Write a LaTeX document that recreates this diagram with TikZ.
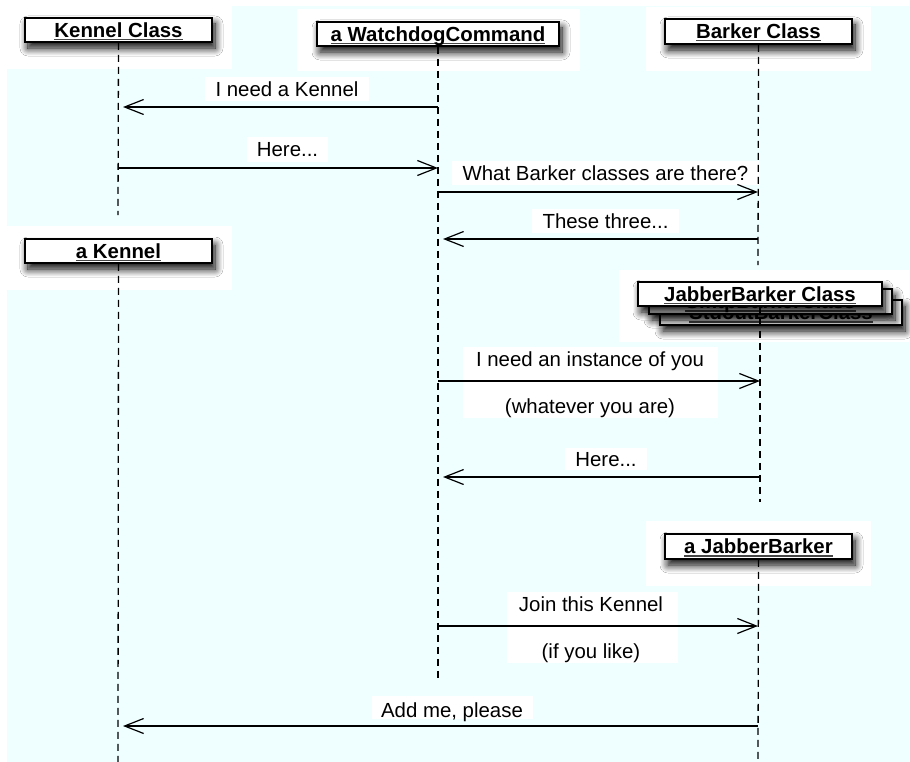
\documentclass[tikz,border=0pt]{standalone}
\usepackage{fontspec}
\setmainfont{Liberation Sans}
\usetikzlibrary{arrows.meta,shadows.blur}
\definecolor{bgcyan}{RGB}{239,255,255}
\definecolor{ulgray}{RGB}{70,70,70}
\newcommand\ultext[1]{\begingroup\setbox0=\hbox{#1}\rlap{\color{ulgray}\rule[-2.6bp]{\wd0}{1.1bp}}\box0\endgroup}
\begin{document}
\begin{tikzpicture}[x=1bp,y=-1bp,
  obj/.style={draw=black, line width=1.6bp, fill=white,
    font=\fontsize{20.4bp}{24bp}\selectfont\bfseries, inner sep=0pt,
    text height=14.8bp, text depth=0pt,
    blur shadow={shadow xshift=3bp, shadow yshift=-6bp, shadow blur radius=8bp, shadow opacity=100, shadow blur steps=10}},
  lbl/.style={font=\fontsize{20.4bp}{24bp}\selectfont, inner sep=0pt, text height=14.6bp, text depth=0pt},
  life/.style={line width=1.3bp, dash pattern=on 7bp off 5bp},
  msg/.style={line width=1.2bp, -{Straight Barb[length=19bp,width=15bp]}},
  patch/.style={fill=white}
]
\useasboundingbox (0,0) rectangle (910,762);
% background
\fill[bgcyan] (7,6) rectangle (910,762);
\fill[patch] (0,0) rectangle (232,69);
\fill[patch] (297,9) rectangle (580,71);
\fill[patch] (646,7) rectangle (871,71);
\fill[patch] (7,226) rectangle (232,290);
\fill[patch] (619,270) rectangle (910,342);
\fill[patch] (646,521) rectangle (871,586);
% label backgrounds
\fill[patch] (205,77) rectangle (369,101);
\fill[patch] (247,137) rectangle (328,162);
\fill[patch] (452,161) rectangle (759,185);
\fill[patch] (532,209) rectangle (679,233);
\fill[patch] (463,347) rectangle (718,418);
\fill[patch] (565,448) rectangle (647,470);
\fill[patch] (507,592) rectangle (678,663);
\fill[patch] (372,696) rectangle (533,719);

% objects
\node[obj, minimum width=187bp, minimum height=24bp] (kc) at (118.5,30) {\ultext{Kennel Class}};
\node[obj, minimum width=242bp, minimum height=24bp] (wc) at (438,34) {\ultext{a WatchdogCommand}};
\node[obj, minimum width=187bp, minimum height=25bp] (bc) at (758.5,31.5) {\ultext{Barker Class}};
\node[obj, minimum width=187bp, minimum height=24bp] (ak) at (118.5,251) {\ultext{a Kennel}};
\node[obj, minimum width=242bp, minimum height=25bp] (jbs) at (781,312.5) {\ultext{StdoutBarkerClass}};
\node[obj, minimum width=243bp, minimum height=25bp] (jbm) at (770.5,301.5) {\ultext{SmtpBarkerClass}};
\node[obj, minimum width=244bp, minimum height=24bp] (jb) at (760,294) {\ultext{JabberBarker Class}};
\node[obj, minimum width=187bp, minimum height=25bp] (ajb) at (758.5,546.5) {\ultext{a JabberBarker}};

% lifeline ends
\coordinate (kcE) at (118,215);
\coordinate (wcE) at (438,682);
\coordinate (bcE) at (758,265);
\coordinate (akE) at (118,762);
\coordinate (jbE) at (760,502);
\coordinate (ajbE) at (758,762);
\draw[life] (kc.south) -- (kcE);
\draw[life] (wc.south) -- (wcE);
\draw[life] (bc.south) -- (bcE);
\draw[life] (ak.south) -- (akE);
\draw[life] (jb.south) -- (jbE);
\draw[life] (ajb.south) -- (ajbE);

% message end points
\coordinate (m1s) at (438,107); \coordinate (m1e) at (123,107);
\coordinate (m2s) at (118,168); \coordinate (m2e) at (438,168);
\coordinate (m3s) at (438,192); \coordinate (m3e) at (758,192);
\coordinate (m4s) at (758,239); \coordinate (m4e) at (443,239);
\coordinate (m5s) at (438,381); \coordinate (m5e) at (760,381);
\coordinate (m6s) at (760,477); \coordinate (m6e) at (443,477);
\coordinate (m7s) at (438,626); \coordinate (m7e) at (758,626);
\coordinate (m8s) at (758,726); \coordinate (m8e) at (123,726);
\draw[msg] (m1s) -- (m1e);
\draw[msg] (m2s) -- (m2e);
\draw[msg] (m3s) -- (m3e);
\draw[msg] (m4s) -- (m4e);
\draw[msg] (m5s) -- (m5e);
\draw[msg] (m6s) -- (m6e);
\draw[msg] (m7s) -- (m7e);
\draw[msg] (m8s) -- (m8e);

% labels
\node[lbl] (l1) at (287,89.5) {I need a Kennel};
\node[lbl] (l2) at (287.5,149.5) {Here...};
\node[lbl] (l3) at (605.5,173) {What Barker classes are there?};
\node[lbl] (l4) at (605.5,221) {These three...};
\node[lbl] (l5a) at (590,358.7) {I need an instance of you};
\node[lbl] (l5b) at (590,405.7) {(whatever you are)};
\node[lbl] (l6) at (606,459) {Here...};
\node[lbl] (l7a) at (591,604) {Join this Kennel};
\node[lbl] (l7b) at (591,650.7) {(if you like)};
\node[lbl] (l8) at (452,709.7) {Add me, please};
\end{tikzpicture}
\end{document}
